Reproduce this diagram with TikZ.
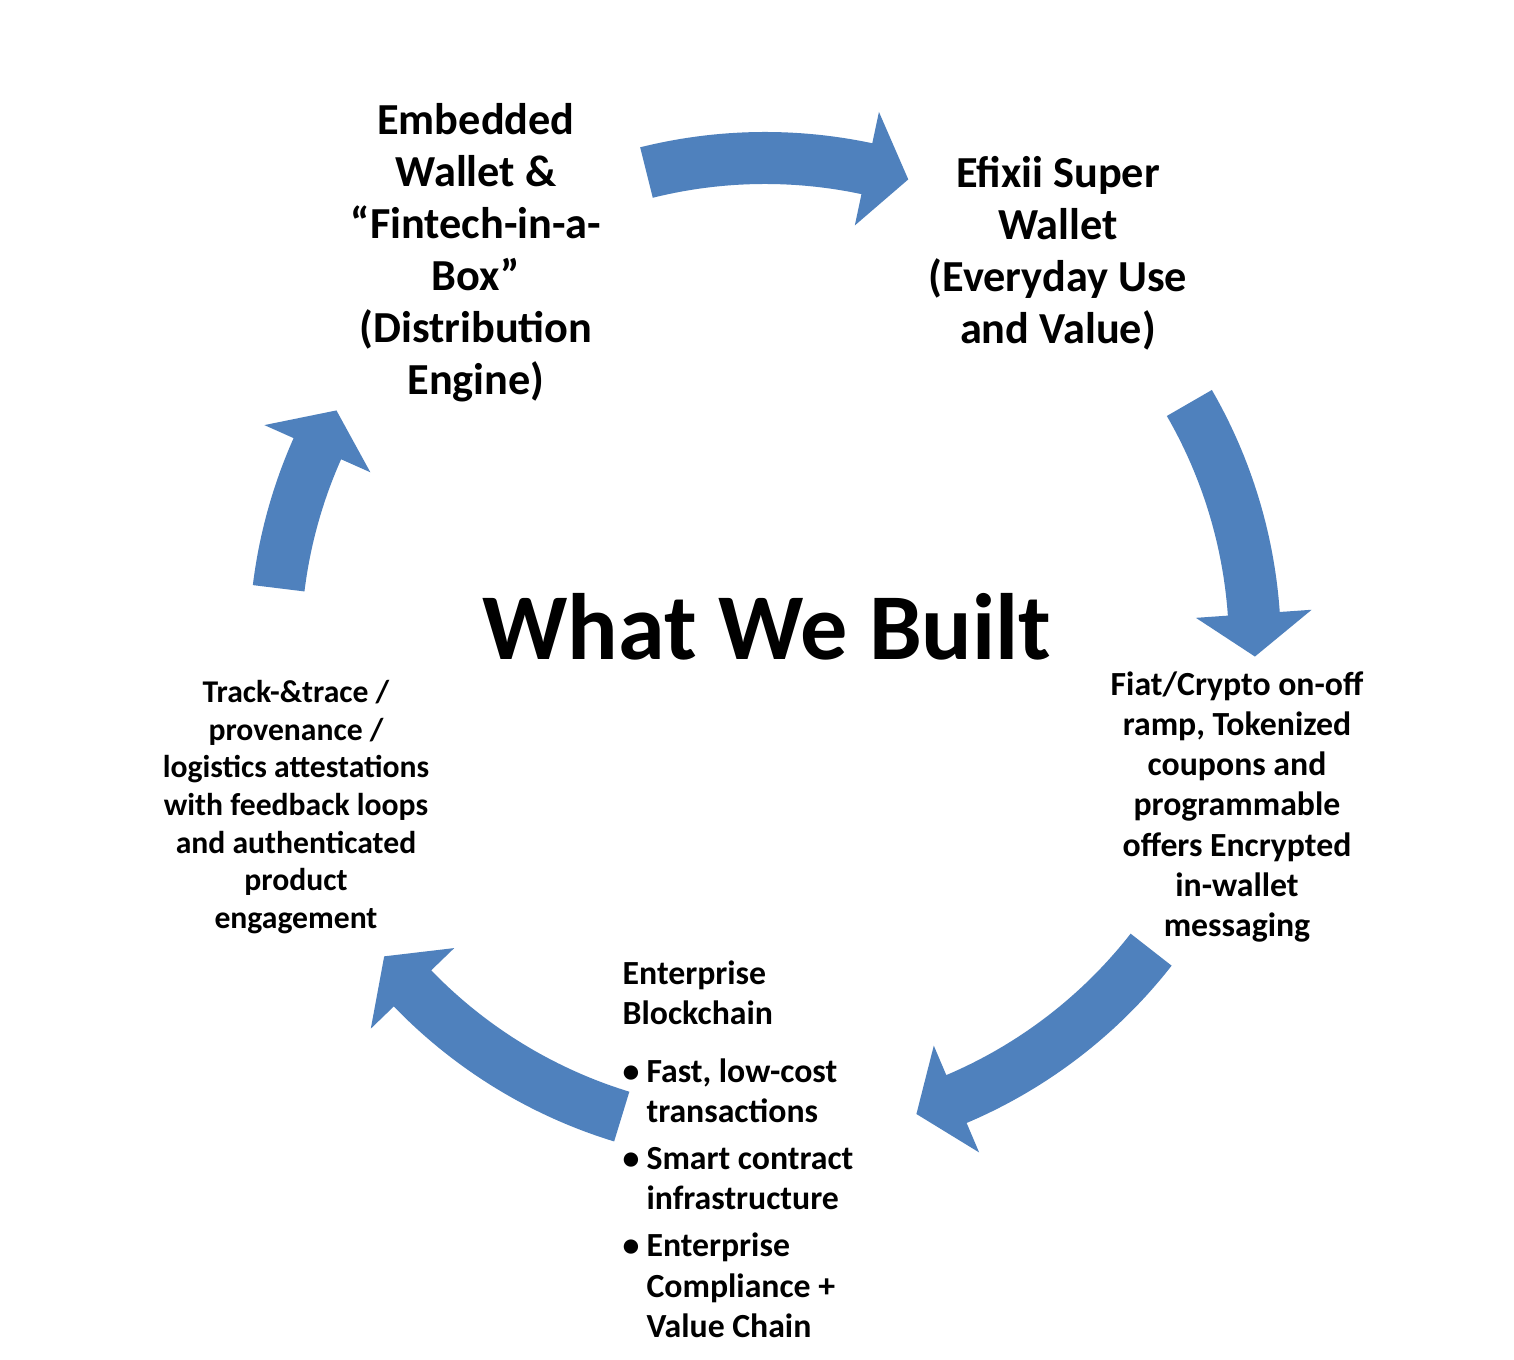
\documentclass[tikz,border=0pt]{standalone}
\usepackage{fontspec}
\setmainfont{Carlito}
\definecolor{cycleblue}{HTML}{4F81BD}
\tikzset{
  stage/.style={font=\bfseries\fontsize{12.6}{14.8}\selectfont, align=center},
  small stage/.style={font=\bfseries\fontsize{9.6}{11.4}\selectfont, align=center},
}
% curved block arrow: start angle, tip angle (clockwise)
\newcommand{\cyclearrow}[2]{%
  \pgfmathsetmacro{\hbase}{#2+5}%
  \fill[cycleblue] (#1:516) arc (#1:\hbase:516) -- (\hbase:548) -- (#2:490)
    -- (\hbase:432) -- (\hbase:464) arc (\hbase:#1:464) -- cycle;}
\begin{document}
\begin{tikzpicture}[x=0.01cm,y=0.01cm]
    \useasboundingbox (0,0) rectangle (1514,1360);
    \fill[white] (0,0) rectangle (1514,1360);

    % The cycle arrows
    \begin{scope}[shift={(765,712)}]
        \cyclearrow{104}{73}
        \cyclearrow{30}{-1}
        \cyclearrow{-38}{-72}
        \cyclearrow{-107}{-141}
        \cyclearrow{-187}{-209}
    \end{scope}

    % Title
    \node[font=\bfseries\fontsize{26.8}{32}\selectfont] (title) at (767,733) {What We Built};

    % Stages
    \node[stage] (embedded) at (476,1107) {Embedded\\Wallet \&\\“Fintech-in-a-\\Box”\\(Distribution\\Engine)};
    \node[stage] (superwallet) at (1058,1107) {Efixii Super\\Wallet\\(Everyday Use\\and Value)};
    \node[small stage] (ramp) at (1237,553) {Fiat/Crypto on-off\\ramp, Tokenized\\coupons and\\programmable\\offers Encrypted\\in-wallet\\messaging};
    \node[stage, font=\bfseries\fontsize{9}{10.7}\selectfont] (trace) at (296,553)
        {Track-\&trace /\\provenance /\\logistics attestations\\with feedback loops\\and authenticated\\product\\engagement};
    \node[small stage, align=left, anchor=north west, inner sep=0pt] (blockchain) at (622,404) {%
        \begin{tabular}{@{}l@{\hspace{2pt}}l@{}}
        \multicolumn{2}{@{}l@{}}{Enterprise}\\
        \multicolumn{2}{@{}l@{}}{Blockchain}\\[5pt]
        \textbullet & Fast, low-cost\\
                    & transactions\\[2pt]
        \textbullet & Smart contract\\
                    & infrastructure\\[2pt]
        \textbullet & Enterprise\\
                    & Compliance +\\
                    & Value Chain
        \end{tabular}};
\end{tikzpicture}
\end{document}
